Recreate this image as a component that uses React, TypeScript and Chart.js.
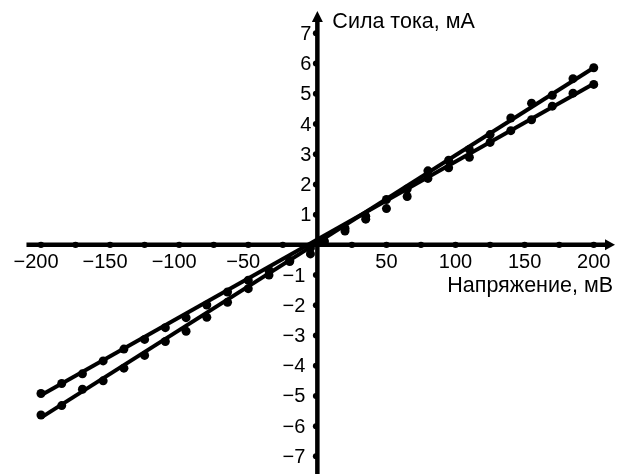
import React, { useEffect, useRef } from "react";
import { Chart, registerables } from "chart.js";

Chart.register(...registerables);

// Voltage, mV
const voltage = [-200, -185, -170, -155, -140, -125, -110, -95, -80, -65, -50, -35, -20, -5, 5, 20, 35, 50, 65, 80, 95, 110, 125, 140, 155, 170, 185, 200];
// Current, mA (steeper series)
const currentA = [-5.63, -5.32, -4.78, -4.5, -4.08, -3.66, -3.2, -2.86, -2.4, -1.9, -1.45, -1.0, -0.55, -0.3, 0.1, 0.55, 0.95, 1.5, 1.85, 2.45, 2.8, 3.16, 3.65, 4.2, 4.69, 4.95, 5.5, 5.86];
// Current, mA (less steep series)
const currentB = [-4.92, -4.59, -4.27, -3.84, -3.45, -3.13, -2.74, -2.41, -1.99, -1.56, -1.17, -0.85, -0.52, -0.1, 0.13, 0.46, 0.85, 1.2, 1.6, 2.2, 2.55, 2.9, 3.39, 3.78, 4.14, 4.59, 5.02, 5.31];
// Fitted straight lines
const fitX = [-200, 200];
const fitA = [-5.72, 5.86];
const fitB = [-4.98, 5.33];

const xTickLabels = [-200, -150, -100, -50, 50, 100, 150, 200];
const xTickDots = [-200, -175, -150, -125, -100, -75, -50, -25, 25, 50, 75, 100, 125, 150, 175, 200];
const yTickLabels = [-7, -6, -5, -4, -3, -2, -1, 1, 2, 3, 4, 5, 6, 7];

const xTitle = "Напряжение, мВ";
const yTitle = "Сила тока, мА";

const X_MIN = -226.4;
const X_MAX = 214.3;
const Y_MIN = -7.435;
const Y_MAX = 7.955;

const FONT = "'Liberation Sans', Arial, sans-serif";

const fmt = (v: number) => (v < 0 ? "\u2212" + Math.abs(v) : String(v));

const axesPlugin = {
  id: "crossAxes",
  beforeDatasetsDraw(chart: any) {
    const ctx = chart.ctx as CanvasRenderingContext2D;
    const xs = chart.scales.x;
    const ys = chart.scales.y;
    const x0 = xs.getPixelForValue(0);
    const y0 = ys.getPixelForValue(0);
    const W = chart.width;
    const H = chart.height;
    ctx.save();
    ctx.strokeStyle = "#000";
    ctx.fillStyle = "#000";
    ctx.lineWidth = 4.5;
    ctx.lineCap = "butt";
    // x axis
    ctx.beginPath();
    ctx.moveTo(xs.getPixelForValue(-210.5), y0);
    ctx.lineTo(W - 10, y0);
    ctx.stroke();
    // x arrow
    ctx.beginPath();
    ctx.moveTo(W - 3, y0);
    ctx.lineTo(W - 13, y0 - 5.5);
    ctx.lineTo(W - 13, y0 + 5.5);
    ctx.closePath();
    ctx.fill();
    // y axis
    ctx.beginPath();
    ctx.moveTo(x0, H);
    ctx.lineTo(x0, 20);
    ctx.stroke();
    // y arrow
    ctx.beginPath();
    ctx.moveTo(x0, 11);
    ctx.lineTo(x0 - 5.5, 22);
    ctx.lineTo(x0 + 5.5, 22);
    ctx.closePath();
    ctx.fill();

    // tick dots
    for (const v of xTickDots) {
      ctx.beginPath();
      ctx.arc(xs.getPixelForValue(v), y0, 3.2, 0, Math.PI * 2);
      ctx.fill();
    }
    for (const v of yTickLabels) {
      ctx.beginPath();
      ctx.arc(x0 - 1.5, ys.getPixelForValue(v), 3, 0, Math.PI * 2);
      ctx.fill();
    }

    // tick labels
    ctx.font = `20px ${FONT}`;
    ctx.textAlign = "center";
    ctx.textBaseline = "middle";
    for (const v of xTickLabels) {
      ctx.fillText(fmt(v), xs.getPixelForValue(v) - (v < 0 ? 5 : 0), y0 + 18);
    }
    ctx.textAlign = "right";
    for (const v of yTickLabels) {
      ctx.fillText(fmt(v), x0 - (v < 0 ? 12 : 6), ys.getPixelForValue(v) + 1);
    }

    // titles
    ctx.font = `21.5px ${FONT}`;
    ctx.textAlign = "left";
    ctx.fillText(yTitle, x0 + 15, 22);
    ctx.textAlign = "right";
    ctx.fillText(xTitle, W - 5, y0 + 41);
    ctx.restore();
  },
};

export default function App() {
  const ref = useRef<HTMLCanvasElement | null>(null);
  useEffect(() => {
    document.body.style.margin = "0";
    const canvas = ref.current;
    if (!canvas) return;
    const pts = (xs: number[], ys: number[]) => xs.map((x, i) => ({ x, y: ys[i] }));
    const chart = new Chart(canvas, {
      type: "scatter",
      data: {
        datasets: [
          { data: pts(fitX, fitA), showLine: true, borderColor: "#000", borderWidth: 4, pointRadius: 0 },
          { data: pts(fitX, fitB), showLine: true, borderColor: "#000", borderWidth: 4, pointRadius: 0 },
          { data: pts(voltage, currentA), showLine: false, pointRadius: 4.5, pointBackgroundColor: "#000", pointBorderColor: "#000", borderWidth: 0 },
          { data: pts(voltage, currentB), showLine: false, pointRadius: 4.5, pointBackgroundColor: "#000", pointBorderColor: "#000", borderWidth: 0 },
        ],
      },
      options: {
        responsive: false,
        maintainAspectRatio: false,
        animation: false,
        layout: { padding: 0 },
        plugins: { legend: { display: false }, tooltip: { enabled: false } },
        scales: {
          x: { type: "linear", min: X_MIN, max: X_MAX, display: false },
          y: { type: "linear", min: Y_MIN, max: Y_MAX, display: false },
        },
      },
      plugins: [axesPlugin],
    });
    return () => chart.destroy();
  }, []);
  return (
    <div style={{ width: 618, height: 474, background: "#fff" }}>
      <canvas ref={ref} width={618} height={474} />
    </div>
  );
}
